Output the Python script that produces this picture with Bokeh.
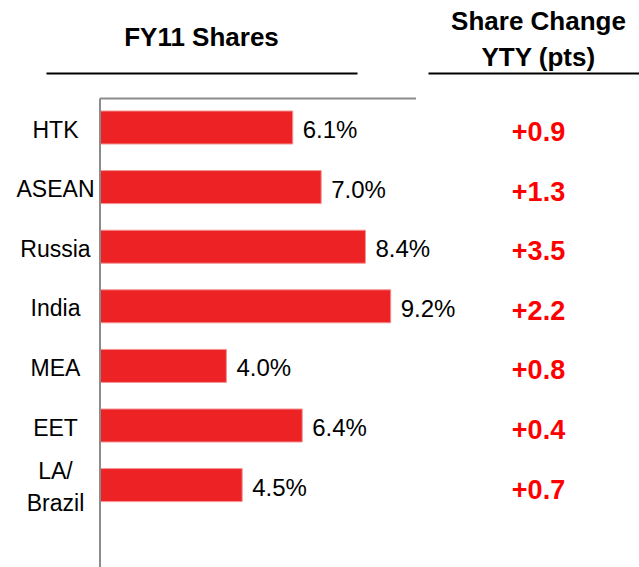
from bokeh.plotting import figure
from bokeh.models import Range1d, ColumnDataSource
from bokeh.core.properties import value
from bokeh.embed import file_html
from bokeh.resources import INLINE

# ---- data ----
regions = ["HTK", "ASEAN", "Russia", "India", "MEA", "EET", "LA/\nBrazil"]
fy11_shares = [6.1, 7.0, 8.4, 9.2, 4.0, 6.4, 4.5]
share_change_pts = [0.9, 1.3, 3.5, 2.2, 0.8, 0.4, 0.7]
share_axis_max = 10.0
left_title = "FY11 Shares"
right_title = "Share Change\nYTY (pts)"

# ---- layout constants (pixels) ----
W, H = 639, 567
PX = 31.6      # px per share point
X0 = 99.5      # canvas px of share = 0
PY = 59.6      # px per category row
Y0 = 127.0     # canvas px of first category centre

def dx(px):
    return (px - X0) / PX

def dy(py):
    return (py - Y0) / PY

FONT = value("Liberation Sans")

idx = list(range(len(regions)))
src = ColumnDataSource(dict(
    y=idx,
    region=regions,
    share=fy11_shares,
    share_lbl=[f"{v:.1f}%" for v in fy11_shares],
    chg_lbl=[f"+{v:.1f}" for v in share_change_pts],
    cat_x=[dx(55)] * len(idx),
    chg_x=[dx(538)] * len(idx),
))

p = figure(width=W, height=H, output_backend="svg", toolbar_location=None,
           x_range=Range1d(-X0 / PX, (W - X0) / PX),
           y_range=Range1d((H - Y0) / PY, -Y0 / PY),
           x_axis_type=None, y_axis_type=None, min_border=0)
p.outline_line_color = None
p.background_fill_color = "white"
p.border_fill_color = "white"

# bars
p.hbar(y="y", left=0, right="share", height=0.554, source=src,
       fill_color="#ED2224", line_color="#F39494", line_width=1)

# axis frame lines (left axis + top edge)
p.segment(x0=[0], y0=[dy(98)], x1=[0], y1=[p.y_range.start],
          line_color="#8C8C8C", line_width=2)
p.segment(x0=[0], y0=[dy(98)], x1=[share_axis_max], y1=[dy(98)],
          line_color="#8C8C8C", line_width=2)

# category labels
p.text(x="cat_x", y="y", text="region", source=src, text_font=FONT,
       text_font_size="23px", text_align="center", text_baseline="middle",
       text_color="black", y_offset=2, text_line_height=1.22)

# value labels
p.text(x="share", y="y", text="share_lbl", source=src, text_font=FONT,
       text_font_size="24px", text_align="left", text_baseline="middle",
       text_color="black", x_offset=10, y_offset=2)

# share change values
p.text(x="chg_x", y="y", text="chg_lbl", source=src, text_font=FONT,
       text_font_size="27px", text_font_style="bold", text_align="center",
       text_baseline="middle", text_color="#FF0000", y_offset=4)

# headers
p.text(x=[dx(201)], y=[dy(36)], text=[left_title], text_font=FONT,
       text_font_size="26px", text_font_style="bold", text_align="center",
       text_baseline="middle", text_color="black")
p.text(x=[dx(538)], y=[dy(38.5)], text=[right_title], text_font=FONT,
       text_font_size="26px", text_font_style="bold", text_align="center",
       text_baseline="middle", text_color="black", text_line_height=1.2)

# header underlines
p.segment(x0=[dx(46), dx(428)], y0=[dy(73), dy(73)],
          x1=[dx(357), dx(639)], y1=[dy(73), dy(73)],
          line_color="black", line_width=2)

open("out.html", "w").write(file_html(p, INLINE))
